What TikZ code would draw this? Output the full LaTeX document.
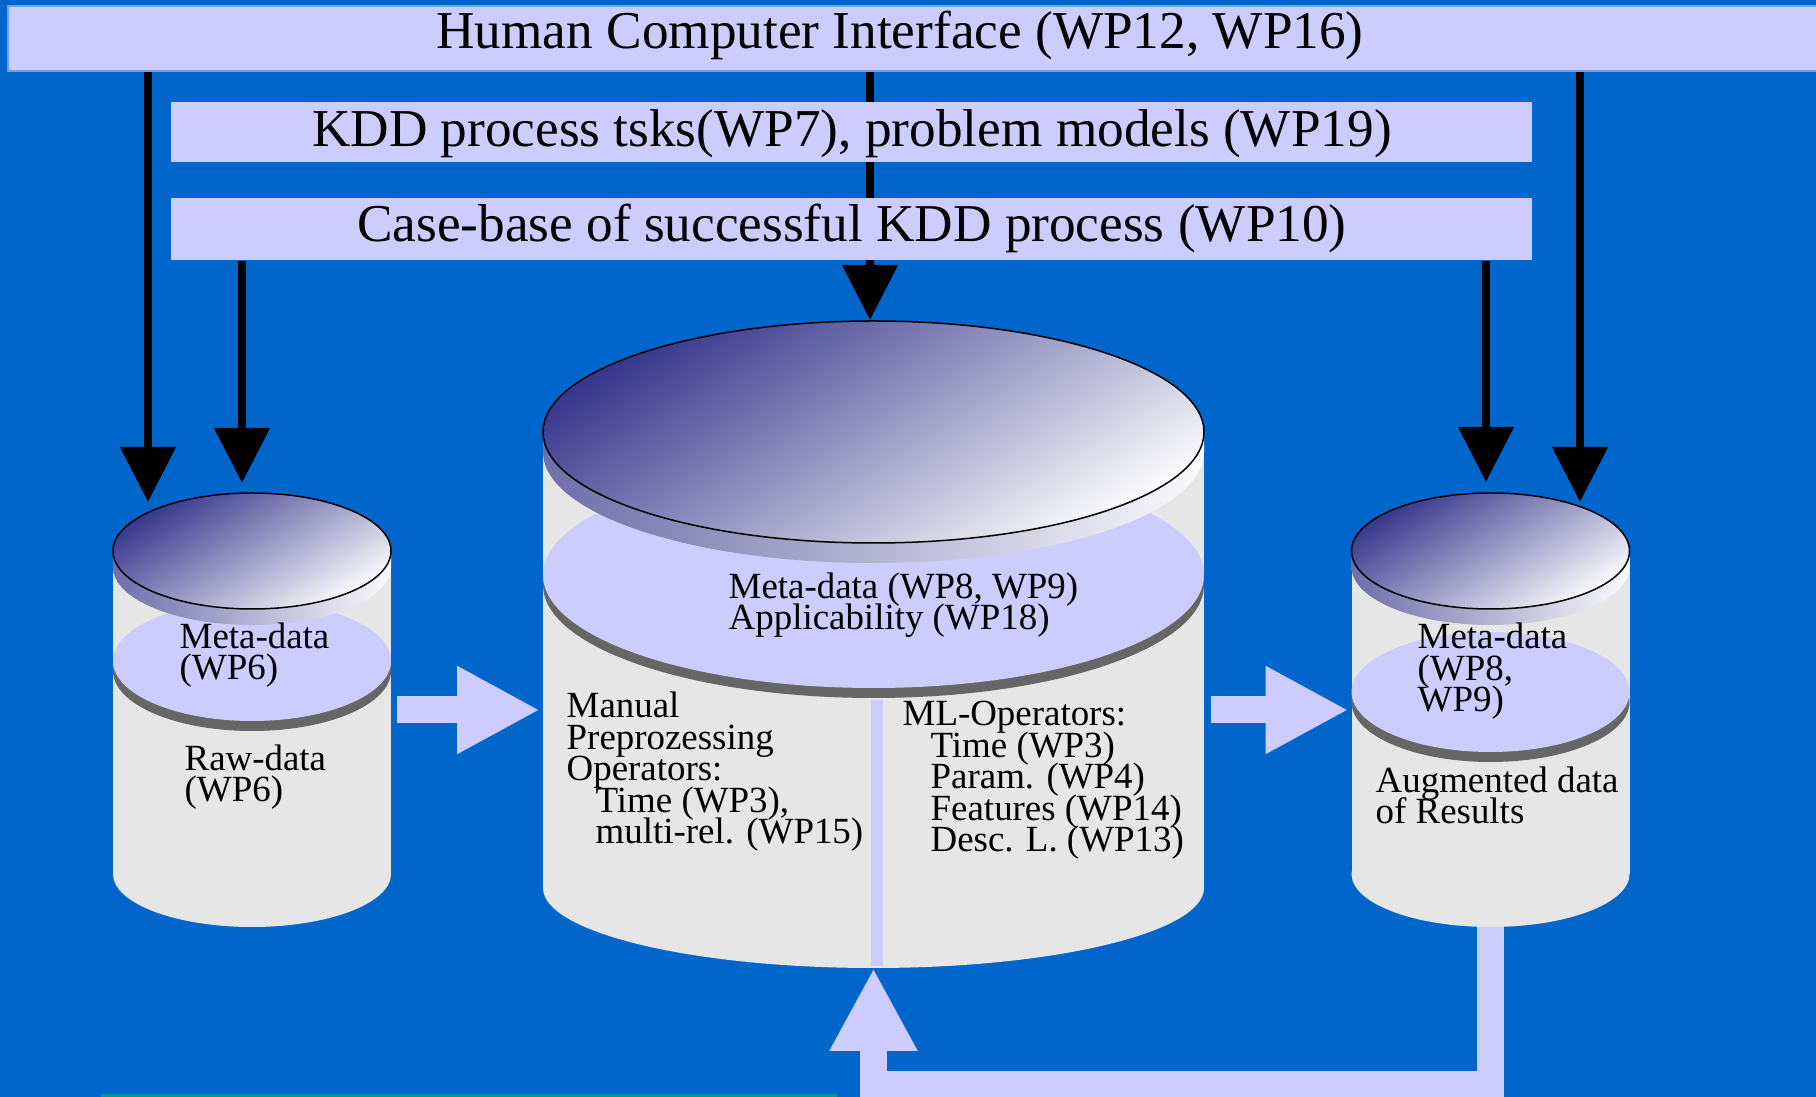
\documentclass[tikz,border=0pt]{standalone}
\usepackage{fontspec}
\setmainfont{Liberation Serif}
\usetikzlibrary{arrows.meta}

\definecolor{bgblue}{RGB}{0,102,204}
\definecolor{lav}{RGB}{204,204,255}
\definecolor{drumgray}{RGB}{230,230,230}
\definecolor{rimgray}{RGB}{102,102,102}
\definecolor{lidnavy}{RGB}{55,55,140}
\definecolor{lidwhite}{RGB}{250,250,252}
\definecolor{edgenavy}{RGB}{110,110,170}
\definecolor{hciedge}{RGB}{110,160,240}
\definecolor{tealbar}{RGB}{0,153,153}

\newcommand{\drumfont}{\fontsize{10.5}{9}\selectfont\lineskiplimit=-\maxdimen}

% name, cx, rx, lid y, lid ry, lid height, disk y, bottom y, bottom ry
\newcommand{\drum}[9]{
    \fill[drumgray] ({#2-#3},#4) rectangle ({#2+#3},#8);
    \fill[drumgray] (#2,#8) ellipse [x radius=#3, y radius=#9];
    \fill[rimgray] (#2,{#7+10}) ellipse [x radius=#3, y radius={#5+2}];
    \fill[lav] (#2,#7) ellipse [x radius=#3, y radius={#5+2}];
    \path[lidedge] ({#2-#3},#4) rectangle ({#2+#3},{#4+#6});
    \path[lidedge] (#2,{#4+#6}) ellipse [x radius=#3, y radius=#5];
    \path[lidtop] (#2,#4) ellipse [x radius=#3, y radius=#5];
    \node[drumbox, minimum width={0.2mm*#3}, minimum height={0.1mm*(#8+#9-#4+#5)}] (#1) at (#2,{(#4-#5+#8+#9)/2}) {};
}

\begin{document}
\begin{tikzpicture}[x=0.1mm, y=-0.1mm,
    bar/.style={fill=lav, inner sep=0pt},
    headtext/.style={font=\fontsize{15.15}{18}\selectfont, anchor=base, inner sep=0pt},
    drumtext/.style={font=\drumfont, align=left, anchor=base west, inner sep=0pt},
    drumbox/.style={inner sep=0pt, outer sep=0pt},
    lidtop/.style={draw=black, line width=0.15mm, top color=lidnavy, bottom color=lidwhite, shading angle=32},
    lidedge/.style={left color=edgenavy, right color=lidwhite},
    pointer/.style={line width=0.8mm, -{Triangle[width=5.4mm, length=5.5mm]}},
    fatarrow/.style={draw=lav, line width=2.7mm, -{Triangle[width=8.2mm, length=8.3mm]}}]

    \fill[bgblue, use as bounding box] (0,0) rectangle (1816,1097);

    \node[bar, draw=hciedge, line width=0.2mm, minimum width=182.2mm, minimum height=6.5mm] (hci) at (919,38.5) {};
    \coordinate (proctop) at (870,320);
    \draw[pointer] (hci.south -| proctop) -- (proctop);
    \node[bar, minimum width=136.1mm, minimum height=6mm] (kddbar) at (851.5,132) {};
    \node[bar, minimum width=136.1mm, minimum height=6.2mm] (casebar) at (851.5,229) {};

    \node[headtext] (hcilabel) at (900,49) {Human Computer Interface (WP12, WP16)};
    \node[headtext] (kddlabel) at (852,147) {KDD process tsks(WP7), problem models (WP19)};
    \node[headtext] (caselabel) at (852,242) {Case-base of successful KDD process (WP10)};

    \drum{rawdb}{252}{139}{551}{58}{16}{661}{874}{53}
    \drum{procdb}{873.5}{330.5}{432}{111}{20}{575}{888}{80}
    \drum{resdb}{1490.5}{139}{551}{58}{16}{692}{874}{53}
    \fill[lav] (871,700) rectangle (883,966);

    \coordinate (rawin1) at (148,502);
    \coordinate (rawin2) at (242,483);
    \coordinate (resin1) at (1486,482);
    \coordinate (resin2) at (1580,502);
    \draw[pointer] (hci.south -| rawin1) -- (rawin1);
    \draw[pointer] (casebar.south -| rawin2) -- (rawin2);
    \draw[pointer] (casebar.south -| resin1) -- (resin1);
    \draw[pointer] (hci.south -| resin2) -- (resin2);

    \node[drumtext] (rawmeta) at (179,680) {Meta-data\\(WP6)};
    \node[drumtext] (rawlabel) at (184,802) {Raw-data\\(WP6)};
    \node[drumtext] (procmeta) at (728,630) {Meta-data (WP8, WP9)\\Applicability (WP18)};
    \node[drumtext] (procprep) at (566,844) {Manual\\Preprozessing\\Operators:\\\hspace*{2.9mm}Time (WP3),\\\hspace*{2.9mm}multi-rel. (WP15)};
    \node[drumtext] (procml) at (902,852) {ML-Operators:\\\hspace*{2.8mm}Time (WP3)\\\hspace*{2.8mm}Param. (WP4)\\\hspace*{2.8mm}Features (WP14)\\\hspace*{2.8mm}Desc. L. (WP13)};
    \node[drumtext] (resmeta) at (1417,712) {Meta-data\\(WP8,\\WP9)};
    \node[drumtext] (reslabel) at (1375,824) {Augmented data\\of Results};

    \draw[fatarrow, shorten <=0.65mm, shorten >=0.3mm] (rawdb.east) -- (rawdb.east -| procdb.west);
    \draw[fatarrow, shorten <=0.65mm, shorten >=0.3mm] (procdb.east |- resdb.west) -- (resdb.west);
    \coordinate (loopbend) at (873.5,1084.5);
    \draw[fatarrow, line join=miter] (resdb.south) |- (loopbend) -- (procdb.south);

    \fill[tealbar] (101,1094) rectangle (837,1100);
\end{tikzpicture}
\end{document}
